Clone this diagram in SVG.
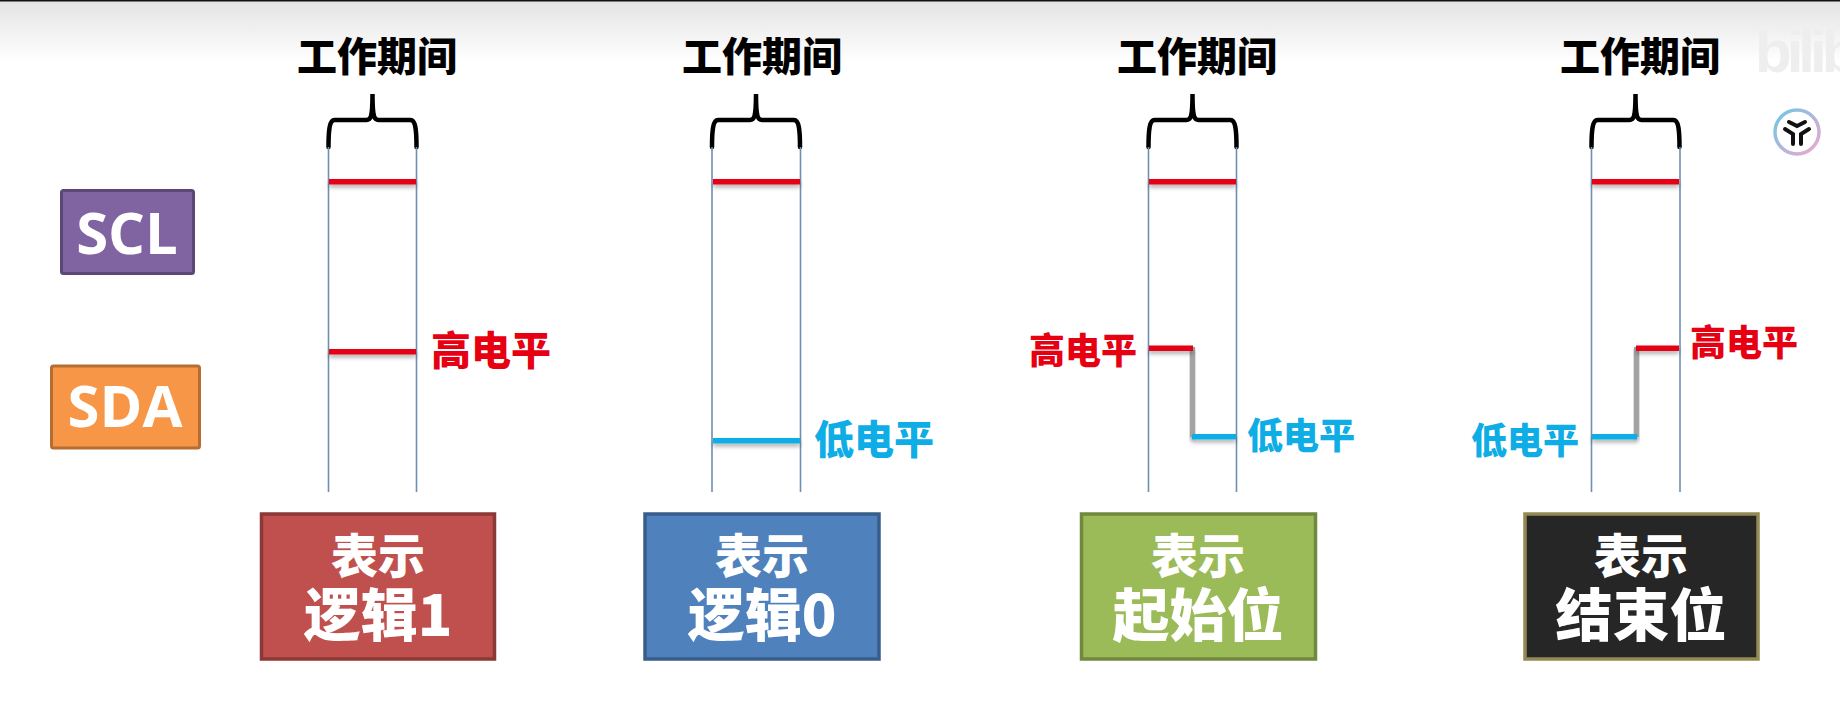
<svg xmlns="http://www.w3.org/2000/svg" width="1840" height="704" viewBox="0 0 1840 704">
<style>
text{font-family:"Noto Sans CJK SC","Liberation Sans",sans-serif;font-weight:900}
.t{font-size:40px;fill:#000;text-anchor:middle}
.h{font-size:40px;fill:#e60012;text-anchor:middle}
.l{font-size:40px;fill:#0fade6;text-anchor:middle}
.sm{font-size:36px}
.w{fill:#fff;text-anchor:middle;font-size:47px}
.b{font-size:57px}
.lab{font-family:"Open Sans","Liberation Sans",sans-serif;font-size:58px;fill:#fff;text-anchor:middle;font-weight:700}
.v{stroke:#6f8fb2;stroke-width:1.6;fill:none}
.br{stroke:#000;stroke-width:4.500;fill:none;stroke-linecap:round}
.red{fill:#e60012}
.blue{fill:#0fade6}
.gr{fill:#a3a3a3}
.wm{font-family:"Liberation Sans",sans-serif;font-size:60px;font-weight:700;fill:#eeeeee;letter-spacing:-5px}
</style>
<defs>
<linearGradient id="top" x1="0" y1="0" x2="0" y2="1"><stop offset="0" stop-color="#e3e3e3"/><stop offset="1" stop-color="#fff"/></linearGradient>
<linearGradient id="ring" x1="0" y1="0" x2="1" y2="1"><stop offset="0" stop-color="#6cc8e4"/><stop offset="1" stop-color="#f0a6d0"/></linearGradient>
<filter id="sh" x="-10%" y="-150%" width="120%" height="500%"><feDropShadow dx="0" dy="3" stdDeviation="2" flood-color="#000" flood-opacity="0.3"/></filter>
<path id="brace" class="br" d="M0 53 C0 36 1 26 6 26 L38 26 C42 26 44 24 44 0 C44 24 46 26 50 26 L82 26 C87 26 88 36 88 53"/>
</defs>
<rect width="1840" height="704" fill="#fff"/>
<rect y="0" width="1840" height="62" fill="url(#top)"/>
<rect width="1840" height="1.5" fill="#111"/>
<text class="wm" x="1755" y="72">bilibi</text>
<g id="logo" transform="translate(1797 132)">
<circle r="22" fill="#fff" stroke="url(#ring)" stroke-width="3.500"/>
<path d="M-8 -10 L0 -6 L8 -10 M-12 -3 L-4 2 V12 M12 -3 L4 2 V12" stroke="#111" stroke-width="4" fill="none" stroke-linecap="round"/>
</g>
<g id="scl"><rect x="61.500" y="190.500" width="132" height="83" rx="2" fill="#8064a2" stroke="#5c4776" stroke-width="3"/><text class="lab" x="127" y="254">SCL</text></g>
<g id="sda"><rect x="51.500" y="366" width="148" height="82" rx="2" fill="#f79646" stroke="#b66d31" stroke-width="3"/><text class="lab" x="125" y="427">SDA</text></g>
<g id="col1">
<text class="t" x="377" y="71">工作期间</text>
<use href="#brace" x="328.500" y="94"/>
<path class="v" d="M328.500 147V492M416.500 147V492"/>
<rect class="red" filter="url(#sh)" x="329" y="179" width="87" height="5.500"/>
<rect class="red" filter="url(#sh)" x="329" y="349" width="87" height="5.500"/>
<text class="h" x="491" y="365">高电平</text>
<g id="box1"><rect x="261.500" y="514" width="233" height="145" fill="#c0504d" stroke="#8c3836" stroke-width="3.500"/><text class="w" x="378" y="573">表示<tspan class="b" x="378" y="636">逻辑1</tspan></text></g>
</g>
<g id="col2">
<text class="t" x="762" y="71">工作期间</text>
<use href="#brace" x="712" y="94"/>
<path class="v" d="M712 147V492M800.500 147V492"/>
<rect class="red" filter="url(#sh)" x="713" y="179" width="87" height="5.500"/>
<rect class="blue" filter="url(#sh)" x="713" y="438" width="87" height="5.500"/>
<text class="l" x="874" y="454">低电平</text>
<g id="box2"><rect x="645" y="514" width="234" height="145" fill="#4f81bd" stroke="#385d8a" stroke-width="3.500"/><text class="w" x="762" y="573">表示<tspan class="b" x="762" y="636">逻辑0</tspan></text></g>
</g>
<g id="col3">
<text class="t" x="1197" y="71">工作期间</text>
<use href="#brace" x="1148.500" y="94"/>
<path class="v" d="M1148.500 147V492M1236.500 147V492"/>
<rect class="red" filter="url(#sh)" x="1149" y="179" width="87" height="5.500"/>
<rect class="gr" filter="url(#sh)" x="1190" y="347" width="5" height="90"/>
<rect class="red" filter="url(#sh)" x="1149" y="345.500" width="44" height="5.500"/>
<rect class="blue" filter="url(#sh)" x="1192" y="434" width="44" height="5.500"/>
<text class="h sm" x="1083" y="364">高电平</text>
<text class="l sm" x="1301" y="449">低电平</text>
<g id="box3"><rect x="1081.500" y="514" width="234" height="145" fill="#9bbb59" stroke="#71893f" stroke-width="3.500"/><text class="w" x="1198" y="573">表示<tspan class="b" x="1198" y="636">起始位</tspan></text></g>
</g>
<g id="col4">
<text class="t" x="1640" y="71">工作期间</text>
<use href="#brace" x="1591.500" y="94"/>
<path class="v" d="M1591.500 147V492M1680 147V492"/>
<rect class="red" filter="url(#sh)" x="1592" y="179" width="87" height="5.500"/>
<rect class="gr" filter="url(#sh)" x="1634" y="347" width="5" height="90"/>
<rect class="red" filter="url(#sh)" x="1636" y="345.500" width="43" height="5.500"/>
<rect class="blue" filter="url(#sh)" x="1592" y="434" width="45" height="5.500"/>
<text class="h sm" x="1744" y="356">高电平</text>
<text class="l sm" x="1525" y="454">低电平</text>
<g id="box4"><rect x="1525" y="514" width="233" height="145" fill="#262626" stroke="#938953" stroke-width="3.500"/><text class="w" x="1641" y="573">表示<tspan class="b" x="1641" y="636">结束位</tspan></text></g>
</g>
</svg>
